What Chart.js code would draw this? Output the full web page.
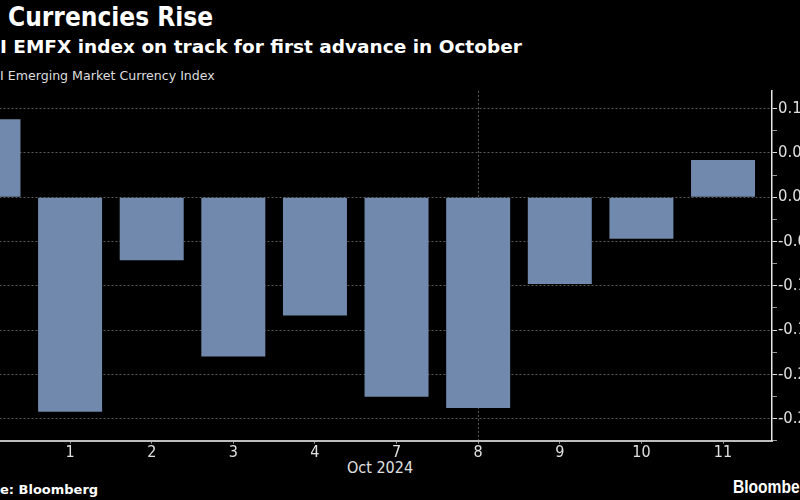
<!DOCTYPE html>
<html>
<head>
<meta charset="utf-8">
<script src="https://cdn.jsdelivr.net/npm/chart.js@4"></script>
<style>
  html, body { margin: 0; padding: 0; background: #000; }
  body { width: 800px; height: 500px; position: relative; overflow: hidden; color: #fff; }
  .txt { position: absolute; white-space: nowrap; }
  .pre { position: absolute; right: 100%; top: 0; }
  #title { left: 8px; top: 2px; font: bold 26px "DejaVu Sans", sans-serif; transform: scaleX(0.9); transform-origin: left top; }
  #subtitle { left: 0px; top: 36px; font: bold 18.5px "DejaVu Sans", sans-serif; }
  #unit { left: 0px; top: 68px; font: 12.6px "DejaVu Sans", sans-serif; color: #ddd; }
  #month { left: 380px; top: 458px; transform: translateX(-50%); font: 16px "DejaVu Sans Condensed", sans-serif; color: #e0e0e0; }
  #source { left: 0px; top: 482px; font: bold 13px "DejaVu Sans", sans-serif; }
  #logo { left: 733px; top: 476px; font: bold 19px "Liberation Sans", sans-serif; transform: scaleX(0.82); transform-origin: left top; }
  #wrap { position: absolute; left: -70px; top: 80px; width: 900px; height: 420px; }
</style>
</head>
<body>
<div id="title" class="txt"><span class="pre">EM&nbsp;</span>Currencies Rise</div>
<div id="subtitle" class="txt"><span class="pre">MSC</span>I EMFX index on track for first advance in October</div>
<div id="unit" class="txt"><span class="pre">MSC</span>I Emerging Market Currency Index</div>
<div id="month" class="txt">Oct 2024</div>
<div id="source" class="txt"><span class="pre">Sourc</span>e: Bloomberg</div>
<div id="logo" class="txt">Bloomberg</div>
<div id="wrap"><canvas id="chart"></canvas></div>

<script>
// Daily change, Sep 30 - Oct 11 2024
const days = ['30', '1', '2', '3', '4', '7', '8', '9', '10', '11'];
const changes = [0.0881, -0.2422, -0.0712, -0.1798, -0.1335, -0.2254, -0.2381, -0.0981, -0.0470, 0.0419];
const yTickValues = [0.1, 0.05, 0, -0.05, -0.1, -0.15, -0.2, -0.25];
const yMin = -0.275;
const yMax = 0.12;
const weekBreakIndex = 6; // vertical dotted line at Oct 8

const barColor = '#7189ad';
const gridColor = '#5a5a5a';
const tickFont = { family: '"DejaVu Sans Condensed", sans-serif', size: 16 };

function isMajor(v) {
  return yTickValues.some(t => Math.abs(t - v) < 1e-9);
}

document.addEventListener('DOMContentLoaded', function () {
  const ctx = document.getElementById('chart').getContext('2d');

  new Chart(ctx, {
    type: 'bar',
    data: {
      datasets: [{
        data: changes.map((v, i) => ({ x: i, y: v })),
        backgroundColor: barColor,
        borderWidth: 0,
        barPercentage: 0.784,
        categoryPercentage: 1
      }]
    },
    options: {
      responsive: true,
      maintainAspectRatio: false,
      animation: false,
      layout: { padding: { left: 9.5, top: 8, right: 8, bottom: 29.3 } },
      plugins: { legend: { display: false }, tooltip: { enabled: false } },
      scales: {
        x: {
          type: 'linear',
          min: -0.6,
          max: 9.6,
          offset: false,
          afterBuildTicks: s => { s.ticks = days.map((d, i) => ({ value: i })); },
          afterFit: s => { s.height = 30; },
          ticks: {
            color: '#e0e0e0',
            font: tickFont,
            padding: 0,
            maxRotation: 0,
            autoSkip: false,
            callback: v => days[v]
          },
          grid: {
            offset: false,
            color: c => (c.tick && c.tick.value === weekBreakIndex) ? gridColor : 'transparent',
            lineWidth: 1,
            tickLength: 3,
            tickColor: '#999',
            tickBorderDash: []
          },
          border: { display: true, color: '#bdbdbd', width: 2, dash: [2, 2] }
        },
        y: {
          position: 'right',
          min: yMin,
          max: yMax,
          afterBuildTicks: s => {
            const t = [];
            yTickValues.forEach(v => t.push({ value: v }));
            for (let i = 0; i < yTickValues.length; i++) t.push({ value: yTickValues[i] - 0.025 });
            s.ticks = t.sort((a, b) => a.value - b.value);
          },
          afterFit: s => { s.width = 50; },
          ticks: {
            color: '#e0e0e0',
            font: { family: tickFont.family, size: 16.5 },
            padding: 1,
            autoSkip: false,
            callback: v => isMajor(v) ? v.toFixed(2) : ''
          },
          grid: {
            color: c => (c.tick && isMajor(c.tick.value)) ? gridColor : 'transparent',
            lineWidth: 1,
            tickLength: 5,
            tickColor: c => (c.tick && isMajor(c.tick.value)) ? '#e0e0e0' : '#9a9a9a',
            tickBorderDash: []
          },
          border: { display: true, color: '#e6e6e6', width: 1.5, dash: [2, 2] }
        }
      }
    }
  });
});
</script>
</body>
</html>
